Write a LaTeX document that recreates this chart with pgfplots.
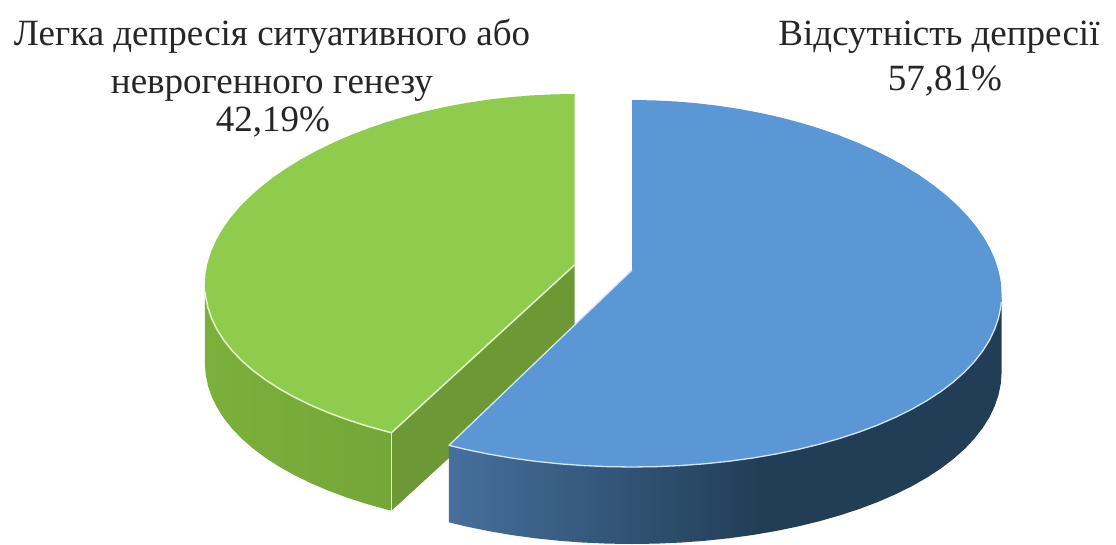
\documentclass[border=0pt]{standalone}
\usepackage{pgfplots}
\pgfplotsset{compat=1.18}
\usepackage{pgfplotstable}
\usepackage{fontspec}
\setmainfont{Liberation Serif}

\definecolor{blueTop}{HTML}{5B97D5}
\definecolor{blueRim}{HTML}{D3E6F7}
\definecolor{blueSideA}{HTML}{466F9C}
\definecolor{blueSideB}{HTML}{2F5272}
\definecolor{blueSideC}{HTML}{223E57}
\definecolor{greenTop}{HTML}{8FCC4E}
\definecolor{greenRim}{HTML}{E3F5C8}
\definecolor{greenWall}{HTML}{6C9835}
\definecolor{greenSideL}{HTML}{7BB03C}
\definecolor{greenSideR}{HTML}{75A638}

% Outer wall of the blue slice: lighter at the front-left, dark towards the right
\pgfdeclarehorizontalshading{blueside}{100bp}{
  color(0bp)=(blueSideA); color(25bp)=(blueSideA);
  color(42bp)=(blueSideB); color(53bp)=(blueSideC);
  color(75bp)=(blueSideC); color(100bp)=(blueSideC)}

% Columns: r = 0 at the apex, 1 on the rim; p = cumulative share in per cent; d = 1 on the lower face
\pgfplotstableread[row sep=\\]{r p d\\
0 0 0\\1 0 0\\1 1 0\\1 2 0\\1 3 0\\1 4 0\\1 5 0\\1 6 0\\1 7 0\\1 8 0\\1 9 0\\1 10 0\\1 11 0\\1 12 0\\1 13 0\\1 14 0\\1 15 0\\1 16 0\\1 17 0\\1 18 0\\1 19 0\\1 20 0\\1 21 0\\1 22 0\\1 23 0\\1 24 0\\1 25 0\\1 26 0\\1 27 0\\1 28 0\\1 29 0\\1 30 0\\1 31 0\\1 32 0\\1 33 0\\1 34 0\\1 35 0\\1 36 0\\1 37 0\\1 38 0\\1 39 0\\1 40 0\\1 41 0\\1 42 0\\1 43 0\\1 44 0\\1 45 0\\1 46 0\\1 47 0\\1 48 0\\1 49 0\\1 50 0\\1 51 0\\1 52 0\\1 53 0\\1 54 0\\1 55 0\\1 56 0\\1 57 0\\1 57.81 0\\
}\blueTopTable
\pgfplotstableread[row sep=\\]{r p d\\
1 26 0\\1 27 0\\1 28 0\\1 29 0\\1 30 0\\1 31 0\\1 32 0\\1 33 0\\1 34 0\\1 35 0\\1 36 0\\1 37 0\\1 38 0\\1 39 0\\1 40 0\\1 41 0\\1 42 0\\1 43 0\\1 44 0\\1 45 0\\1 46 0\\1 47 0\\1 48 0\\1 49 0\\1 50 0\\1 51 0\\1 52 0\\1 53 0\\1 54 0\\1 55 0\\1 56 0\\1 57 0\\1 57.81 0\\
1 57.81 1\\1 57 1\\1 56 1\\1 55 1\\1 54 1\\1 53 1\\1 52 1\\1 51 1\\1 50 1\\1 49 1\\1 48 1\\1 47 1\\1 46 1\\1 45 1\\1 44 1\\1 43 1\\1 42 1\\1 41 1\\1 40 1\\1 39 1\\1 38 1\\1 37 1\\1 36 1\\1 35 1\\1 34 1\\1 33 1\\1 32 1\\1 31 1\\1 30 1\\1 29 1\\1 28 1\\1 27 1\\1 26 1\\
}\blueSideTable
\pgfplotstableread[row sep=\\]{r p d\\
1 26.6 0\\1 27 0\\1 28 0\\1 29 0\\1 30 0\\1 31 0\\1 32 0\\1 33 0\\1 34 0\\1 35 0\\1 36 0\\1 37 0\\1 38 0\\1 39 0\\1 40 0\\1 41 0\\1 42 0\\1 43 0\\1 44 0\\1 45 0\\1 46 0\\1 47 0\\1 48 0\\1 49 0\\1 50 0\\1 51 0\\1 52 0\\1 53 0\\1 54 0\\1 55 0\\1 56 0\\1 57 0\\1 57.81 0\\0 0 0\\
}\blueRimTable

\pgfplotstableread[row sep=\\]{r p d\\
0 0 0\\1 0 0\\1 1 0\\1 2 0\\1 3 0\\1 4 0\\1 5 0\\1 6 0\\1 7 0\\1 8 0\\1 9 0\\1 10 0\\1 11 0\\1 12 0\\1 13 0\\1 14 0\\1 15 0\\1 16 0\\1 17 0\\1 18 0\\1 19 0\\1 20 0\\1 21 0\\1 22 0\\1 23 0\\1 24 0\\1 25 0\\1 26 0\\1 27 0\\1 28 0\\1 29 0\\1 30 0\\1 31 0\\1 32 0\\1 33 0\\1 34 0\\1 35 0\\1 36 0\\1 37 0\\1 38 0\\1 39 0\\1 40 0\\1 41 0\\1 42 0\\1 42.19 0\\
}\greenTopTable
\pgfplotstableread[row sep=\\]{r p d\\
1 26 0\\1 27 0\\1 28 0\\1 29 0\\1 30 0\\1 31 0\\1 32 0\\1 33 0\\1 34 0\\1 35 0\\1 36 0\\1 37 0\\1 38 0\\1 39 0\\1 40 0\\1 41 0\\1 42 0\\1 42.19 0\\
1 42.19 1\\1 42 1\\1 41 1\\1 40 1\\1 39 1\\1 38 1\\1 37 1\\1 36 1\\1 35 1\\1 34 1\\1 33 1\\1 32 1\\1 31 1\\1 30 1\\1 29 1\\1 28 1\\1 27 1\\1 26 1\\
}\greenSideTable
\pgfplotstableread[row sep=\\]{r p d\\
0 0 0\\1 42.19 0\\1 42.19 1\\0 0 1\\
}\greenWallTable
\pgfplotstableread[row sep=\\]{r p d\\
1 26.6 0\\1 27 0\\1 28 0\\1 29 0\\1 30 0\\1 31 0\\1 32 0\\1 33 0\\1 34 0\\1 35 0\\1 36 0\\1 37 0\\1 38 0\\1 39 0\\1 40 0\\1 41 0\\1 42 0\\1 42.19 0\\0 0 0\\
}\greenRimTable
\pgfplotstableread[row sep=\\]{r p d\\
1 42.19 0\\1 42.19 1\\
}\greenEdgeTable

% Projection of a share on the tilted disc of each slice
\def\ang{(3.6*\thisrow{p})}
\def\blueX{632+\thisrow{r}*369*sin(\ang)*(1-0.06*cos(\ang))}
\def\blueY{(1-\thisrow{r})*270+\thisrow{r}*(283.5-183.5*cos(\ang))+77*\thisrow{d}}
\def\greenX{574.5-\thisrow{r}*369*sin(\ang)*(1-0.06*cos(\ang))}
\def\greenY{(1-\thisrow{r})*265+\thisrow{r}*(274-180*cos(\ang))+78*\thisrow{d}}

\begin{document}
\begin{tikzpicture}
\begin{axis}[
  scale only axis, width=1116pt, height=543pt,
  xmin=0, xmax=1116, ymin=0, ymax=543, y dir=reverse,
  hide axis, clip=false, enlargelimits=false]

  % full page frame, so that the hidden axis keeps its size
  \path (axis cs:0,0) rectangle (axis cs:1116,543);

  % green slice
  \addplot[draw=none, fill=greenWall] table[x expr={\greenX}, y expr={\greenY}] {\greenWallTable} -- cycle;
  \addplot[draw=none, left color=greenSideL, right color=greenSideR] table[x expr={\greenX}, y expr={\greenY}] {\greenSideTable} -- cycle;
  \addplot[draw=none, fill=greenTop] table[x expr={\greenX}, y expr={\greenY}] {\greenTopTable} -- cycle;
  \addplot[greenRim, line width=1.5pt, line join=round] table[x expr={\greenX}, y expr={\greenY}] {\greenRimTable};
  \addplot[greenRim, line width=1.5pt] table[x expr={\greenX}, y expr={\greenY}] {\greenEdgeTable};

  % blue slice
  \addplot[draw=none, shading=blueside] table[x expr={\blueX}, y expr={\blueY}] {\blueSideTable} -- cycle;
  \addplot[draw=none, fill=blueTop] table[x expr={\blueX}, y expr={\blueY}] {\blueTopTable} -- cycle;
  \addplot[blueRim, line width=1.3pt, line join=round] table[x expr={\blueX}, y expr={\blueY}] {\blueRimTable};

  % labels
  \node[anchor=base, font=\fontsize{37}{44}\selectfont, text=black!85] at (axis cs:272,45) {Легка депресія ситуативного або};
  \node[anchor=base, font=\fontsize{37}{44}\selectfont, text=black!85] at (axis cs:272,93) {неврогенного генезу};
  \node[anchor=base, font=\fontsize{37}{44}\selectfont, text=black!85] at (axis cs:273,131) {42,19\%};
  \node[anchor=base, font=\fontsize{37}{44}\selectfont, text=black!85] at (axis cs:939,45) {Відсутність депресії};
  \node[anchor=base, font=\fontsize{37}{44}\selectfont, text=black!85] at (axis cs:945,90) {57,81\%};
\end{axis}
\end{tikzpicture}
\end{document}
